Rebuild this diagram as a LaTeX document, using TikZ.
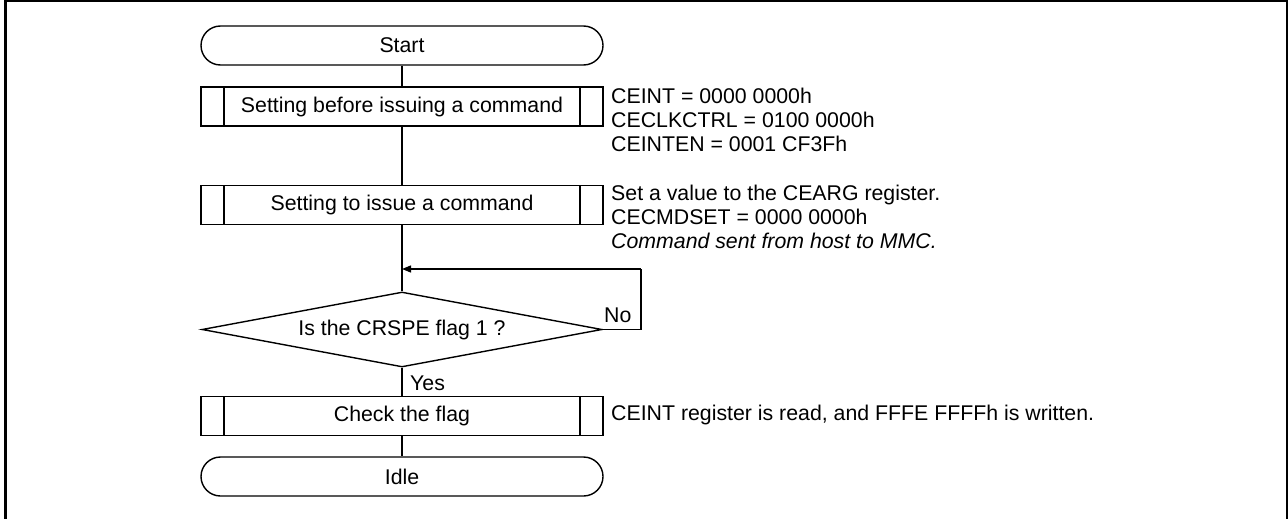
\documentclass[tikz,border=0pt]{standalone}
\usepackage{fontspec}
\setmainfont{Liberation Sans}
\usetikzlibrary{shapes.geometric,arrows.meta}
\tikzset{
  line/.style={draw=black, line width=1.4pt},
  term/.style={line, rectangle, rounded corners=19.5pt, minimum width=402pt, minimum height=39pt, inner sep=0pt},
  proc/.style={line, rectangle, minimum width=402pt, minimum height=39pt, inner sep=0pt,
    path picture={
      \draw[line width=1.4pt] ([xshift=23pt]path picture bounding box.north west) -- ([xshift=23pt]path picture bounding box.south west);
      \draw[line width=1.4pt] ([xshift=-23pt]path picture bounding box.north east) -- ([xshift=-23pt]path picture bounding box.south east);
    }},
  decision/.style={line, diamond, aspect=5.33, minimum width=400pt, minimum height=75pt, inner sep=0pt},
  note/.style={anchor=north west, align=left, inner sep=0pt},
  lbl/.style={inner sep=0pt},
  conn/.style={line width=1.4pt},
}
\begin{document}
\begin{tikzpicture}[x=1pt, y=-1pt, font=\fontsize{21.3}{24}\selectfont]
\useasboundingbox (0,0) rectangle (1288,519);
\draw[line width=2.5pt] (5.5,519) -- (5.5,1.25) -- (1286.75,1.25) -- (1286.75,519);

\node[term] (start) at (402,45.5) {Start};
\node[proc] (p1) at (402,106.5) {Setting before issuing a command};
\node[proc] (p2) at (402,205) {Setting to issue a command};
\coordinate (merge) at (402,269);
\node[decision] (d) at (402,329.5) {Is the CRSPE flag 1 ?};
\node[proc] (p3) at (402,416) {Check the flag};
\node[term] (idle) at (402,476.5) {Idle};
\coordinate (loopc) at (641,329.5);
\coordinate (loopt) at (641,269);

\draw[conn] (start) -- (p1);
\draw[conn] (p1) -- (p2);
\draw[conn] (p2) -- (d);
\draw[conn] (d.east) -- (loopc) -- (loopt);
\draw[conn, -{Triangle[length=9pt,width=7pt]}] (loopt) -- (merge);
\draw[conn] (d) -- (p3);
\draw[conn] (p3) -- (idle);

\node[lbl, anchor=west] (no) at (604,315) {No};
\node[lbl, anchor=west] (yes) at (410,383) {Yes};

\node[note] (n1) at (611,87.5) {CEINT = 0000 0000h\\CECLKCTRL = 0100 0000h\\CEINTEN = 0001 CF3Fh};
\node[note] (n2) at (611,185) {Set a value to the CEARG register.\\CECMDSET = 0000 0000h\\\textit{Command sent from host to MMC.}};
\node[lbl, anchor=west] (n3) at (611,415) {CEINT register is read, and FFFE FFFFh is written.};
\end{tikzpicture}
\end{document}
